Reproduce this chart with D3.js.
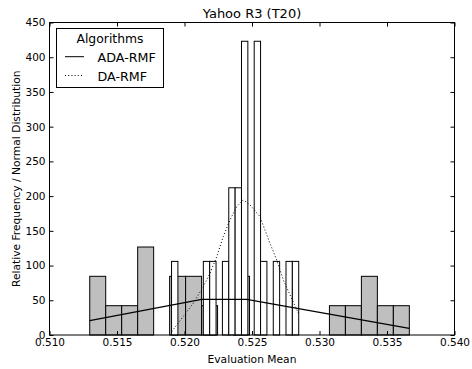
<!DOCTYPE html>
<html lang="en">
<head>
  <meta charset="UTF-8">
  <title>Yahoo R3 (T20)</title>
  <script src="https://d3js.org/d3.v7.min.js"></script>
  <style>
    body { margin: 0; background: #fff; }
    text { font-family: "DejaVu Sans", sans-serif; fill: #000; }
  </style>
</head>
<body>
  <svg id="chart" width="472" height="369"></svg>
  <script>
    // histogram of ADA-RMF (grey bars): first edge, bin width, density per bin
    const adaStart = 0.51298;
    const adaBinWidth = 0.0011837;
    const adaDensity = [84.5, 42.2, 42.2, 126.7, 0, 84.5, 84.5, 42.2, 0, 84.5,
                        0, 0, 0, 0, 0, 42.2, 42.2, 84.5, 42.2, 42.2];

    // histogram of DA-RMF (white bars)
    const daStart = 0.51904;
    const daBinWidth = 0.000471;
    const daDensity = [106, 0, 0, 0, 0, 106, 106, 0, 106, 212,
                       212, 423, 0, 423, 106, 0, 106, 0, 106, 106];

    // fitted normal curves
    const adaLineX = [0.51298, 0.52127, 0.52461, 0.53665];
    const adaLineY = [20.6, 51.4, 51.4, 9.6];
    const daLineX = [0.51905, 0.52065, 0.52139, 0.52189, 0.52239, 0.52287, 0.52337, 0.52387,
                     0.52436, 0.52485, 0.52559, 0.52633, 0.52683, 0.52732, 0.52782, 0.52843];
    const daLineY = [4.8, 45.7, 69.6, 88.9, 112.8, 141.6, 165.7, 184.9,
                     194.5, 187.3, 170.5, 132.1, 108, 79.3, 57.6, 31.3];

    const xTicks = [0.510, 0.515, 0.520, 0.525, 0.530, 0.535, 0.540];
    const yTicks = [0, 50, 100, 150, 200, 250, 300, 350, 400, 450];
    const seriesNames = ['ADA-RMF', 'DA-RMF'];

    const svg = d3.select('svg#chart');
    const plotLeft = 49.5, plotRight = 454.5, plotTop = 22.5, plotBottom = 335;

    const x = d3.scaleLinear().domain([0.510, 0.540]).range([plotLeft, plotRight]);
    const y = d3.scaleLinear().domain([0, 450]).range([plotBottom, plotTop]);

    const plot = svg.append('g').attr('id', 'plot');

    // grey bars first
    plot.selectAll('rect.ada')
      .data(adaDensity.map((d, i) => ({ x0: adaStart + i * adaBinWidth, h: d })).filter(d => d.h > 0))
      .join('rect')
      .attr('class', 'ada')
      .attr('x', d => x(d.x0))
      .attr('y', d => y(d.h))
      .attr('width', d => x(d.x0 + adaBinWidth) - x(d.x0))
      .attr('height', d => y(0) - y(d.h))
      .attr('fill', '#bfbfbf')
      .attr('stroke', '#000')
      .attr('stroke-width', 1);

    // white bars on top
    plot.selectAll('rect.da')
      .data(daDensity.map((d, i) => ({ x0: daStart + i * daBinWidth, h: d })).filter(d => d.h > 0))
      .join('rect')
      .attr('class', 'da')
      .attr('x', d => x(d.x0))
      .attr('y', d => y(d.h))
      .attr('width', d => x(d.x0 + daBinWidth) - x(d.x0))
      .attr('height', d => y(0) - y(d.h))
      .attr('fill', '#fff')
      .attr('stroke', '#000')
      .attr('stroke-width', 1);

    const line = d3.line().x(d => x(d[0])).y(d => y(d[1]));

    plot.append('path')
      .attr('d', line(adaLineX.map((v, i) => [v, adaLineY[i]])))
      .attr('fill', 'none')
      .attr('stroke', '#000')
      .attr('stroke-width', 1.2);

    plot.append('path')
      .attr('d', line(daLineX.map((v, i) => [v, daLineY[i]])))
      .attr('fill', 'none')
      .attr('stroke', '#000')
      .attr('stroke-width', 1)
      .attr('stroke-dasharray', '1,2.2');

    // axes, ticks pointing inwards on all four sides
    const axes = svg.append('g').attr('id', 'axes');

    const bottomAxis = d3.axisBottom(x).tickValues(xTicks).tickFormat(d3.format('.3f'))
      .tickSize(-4).tickPadding(4);
    axes.append('g').attr('transform', 'translate(0,' + plotBottom + ')').call(bottomAxis);

    const topAxis = d3.axisTop(x).tickValues(xTicks).tickFormat('').tickSize(-4);
    axes.append('g').attr('transform', 'translate(0,' + plotTop + ')').call(topAxis);

    const leftAxis = d3.axisLeft(y).tickValues(yTicks).tickFormat(d3.format('d'))
      .tickSize(-4).tickPadding(4);
    axes.append('g').attr('transform', 'translate(' + plotLeft + ',0)').call(leftAxis);

    const rightAxis = d3.axisRight(y).tickValues(yTicks).tickFormat('').tickSize(-4);
    axes.append('g').attr('transform', 'translate(' + plotRight + ',0)').call(rightAxis);

    axes.selectAll('.domain').remove();
    axes.selectAll('.tick line').attr('stroke', '#000');
    axes.selectAll('.tick text')
      .style('font-family', '"DejaVu Sans", sans-serif')
      .style('font-size', '10.5px')
      .attr('fill', '#000');

    axes.append('rect')
      .attr('x', plotLeft).attr('y', plotTop)
      .attr('width', plotRight - plotLeft).attr('height', plotBottom - plotTop)
      .attr('fill', 'none').attr('stroke', '#000').attr('stroke-width', 1);

    // titles
    svg.append('text')
      .attr('x', (plotLeft + plotRight) / 2).attr('y', 18)
      .attr('text-anchor', 'middle')
      .style('font-size', '13px')
      .text('Yahoo R3 (T20)');

    svg.append('text')
      .attr('x', (plotLeft + plotRight) / 2).attr('y', 362.5)
      .attr('text-anchor', 'middle')
      .style('font-size', '10.7px')
      .text('Evaluation Mean');

    svg.append('text')
      .attr('transform', 'translate(20,' + (plotTop + plotBottom) / 2 + ') rotate(-90)')
      .attr('text-anchor', 'middle')
      .style('font-size', '10.7px')
      .text('Relative Frequency / Normal Distribution');

    // legend
    const legend = svg.append('g').attr('id', 'legend');
    legend.append('rect')
      .attr('x', 56.5).attr('y', 28.5).attr('width', 107).attr('height', 59)
      .attr('fill', '#fff').attr('stroke', '#000').attr('stroke-width', 1);
    legend.append('text')
      .attr('x', 110).attr('y', 42.5)
      .attr('text-anchor', 'middle')
      .style('font-size', '12.4px')
      .text('Algorithms');

    seriesNames.forEach((name, i) => {
      const ly = 56.7 + i * 18.8;
      legend.append('line')
        .attr('x1', 65).attr('x2', 84).attr('y1', ly).attr('y2', ly)
        .attr('stroke', '#000')
        .attr('stroke-width', 1)
        .attr('stroke-dasharray', i === 1 ? '1,2.2' : null);
      legend.append('text')
        .attr('x', 97.5).attr('y', ly + 5)
        .style('font-size', '12.7px')
        .text(name);
    });
  </script>
</body>
</html>
